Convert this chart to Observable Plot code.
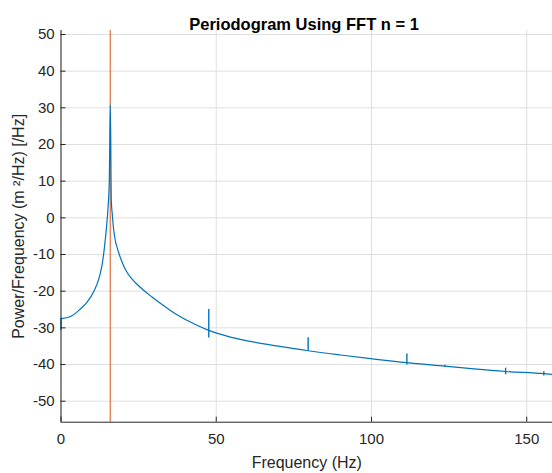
<!DOCTYPE html>
<html><head><meta charset="utf-8">
<script src="https://cdn.jsdelivr.net/npm/d3@7"></script>
<script src="https://cdn.jsdelivr.net/npm/@observablehq/plot@0.6"></script>
<style>body{margin:0;background:#fff;} svg{display:block}</style>
</head><body><div id="chart"></div>
<script>
// ---- data ----
const titleText = "Periodogram Using FFT n = 1";
const xLabelText = "Frequency (Hz)";
const yLabelText = "Power/Frequency (m \u00B2/Hz) [/Hz]";

const xTicks = [0, 50, 100, 150];
const yTicks = [-50, -40, -30, -20, -10, 0, 10, 20, 30, 40, 50];
const xDomain = [0, 158.3];
const yDomain = [-55.73, 51.09];

// spectrum (Hz, dB)
const freq  = [0, 3.1, 6.3, 8.4, 10.6, 12.2, 13.3, 14.0, 14.65, 15.2, 15.55, 15.9, 16.2, 16.5, 17.0, 17.5, 18.1, 19.2, 20.2, 21.3, 22.5, 24.0, 26.7, 29.2, 32.0, 35.0, 38.5, 42.8, 47.6, 54, 61, 70, 79.6, 90, 99.8, 111.4, 123.6, 133, 143.2, 155.5, 158.3];
const power = [-27.5, -26.9, -24.8, -23.0, -20.0, -16.6, -12.5, -8.0, -2.6, 3.5, 10, 30.9, 4.7, 1.1, -3.5, -6.2, -8.2, -11.0, -13.1, -14.9, -16.3, -17.7, -19.8, -21.5, -23.3, -25.1, -27.0, -28.9, -30.7, -32.4, -33.7, -35.0, -36.25, -37.4, -38.4, -39.5, -40.45, -41.2, -41.9, -42.5, -42.7];

// narrow spikes on the curve
const spikeFreq   = [0, 47.6, 79.6, 111.4, 123.6, 143.2, 155.5];
const spikeTop    = [-27.5, -25.0, -32.7, -37.1, -40.2, -41.0, -42.0];
const spikeBottom = [-30.7, -32.8, -36.25, -40.1, -40.7, -42.8, -43.1];

// fundamental marker line
const fundamental = [15.85];

// ---- build tables ----
const series = freq.map((f, i) => ({f, p: power[i]}));
const spikes = spikeFreq.map((f, i) => ({f, top: spikeTop[i], bottom: spikeBottom[i]}));
const fmt = d => `${d}`;
const axisColor = "#262626";
const gridColor = "#dfdfdf";

const chart = Plot.plot({
  width: 552, height: 473,
  marginLeft: 60.5, marginRight: 0, marginTop: 30, marginBottom: 51.3,
  style: {fontFamily: "'Liberation Sans', Arial, Helvetica, sans-serif", fontSize: "15px", color: axisColor, background: "#fff"},
  x: {domain: xDomain, label: null},
  y: {domain: yDomain, label: null},
  marks: [
    Plot.gridX(xTicks, {stroke: gridColor, strokeOpacity: 1}),
    Plot.gridY(yTicks, {stroke: gridColor, strokeOpacity: 1}),
    Plot.ruleX(fundamental, {stroke: "#D95319", strokeWidth: 1}),
    Plot.line(series, {x: "f", y: "p", stroke: "#0072BD", strokeWidth: 1.2, curve: "monotone-x"}),
    Plot.ruleX(spikes, {x: "f", y1: "top", y2: "bottom", stroke: "#0072BD", strokeWidth: 1.4}),
    Plot.ruleX([xDomain[0]], {stroke: axisColor, strokeWidth: 1}),
    Plot.ruleY([yDomain[0]], {stroke: axisColor, strokeWidth: 1}),
    Plot.axisX(xTicks, {tickSize: 5, dy: -5, fill: "none", stroke: axisColor, label: null}),
    Plot.axisY(yTicks, {tickSize: 5, dx: 5, fill: "none", stroke: axisColor, label: null}),
    Plot.axisX(xTicks, {tickSize: 0, tickPadding: 11.5, tickFormat: fmt, fontSize: 15, fill: axisColor, label: null}),
    Plot.axisY(yTicks, {tickSize: 0, tickPadding: 6.3, tickFormat: fmt, fontSize: 15, fill: axisColor, label: null}),
    Plot.text([titleText], {frameAnchor: "top", dy: -12.6, dx: -2.7, fontWeight: "bold", fontSize: 16.5, fill: "#000"}),
    Plot.text([xLabelText], {frameAnchor: "bottom", dy: 45.3, fontSize: 16, fill: axisColor}),
    Plot.text([yLabelText], {frameAnchor: "left", textAnchor: "middle", dx: -42.5, rotate: -90, fontSize: 16, fill: axisColor})
  ]
});
document.getElementById("chart").appendChild(chart);
</script>
</body></html>
